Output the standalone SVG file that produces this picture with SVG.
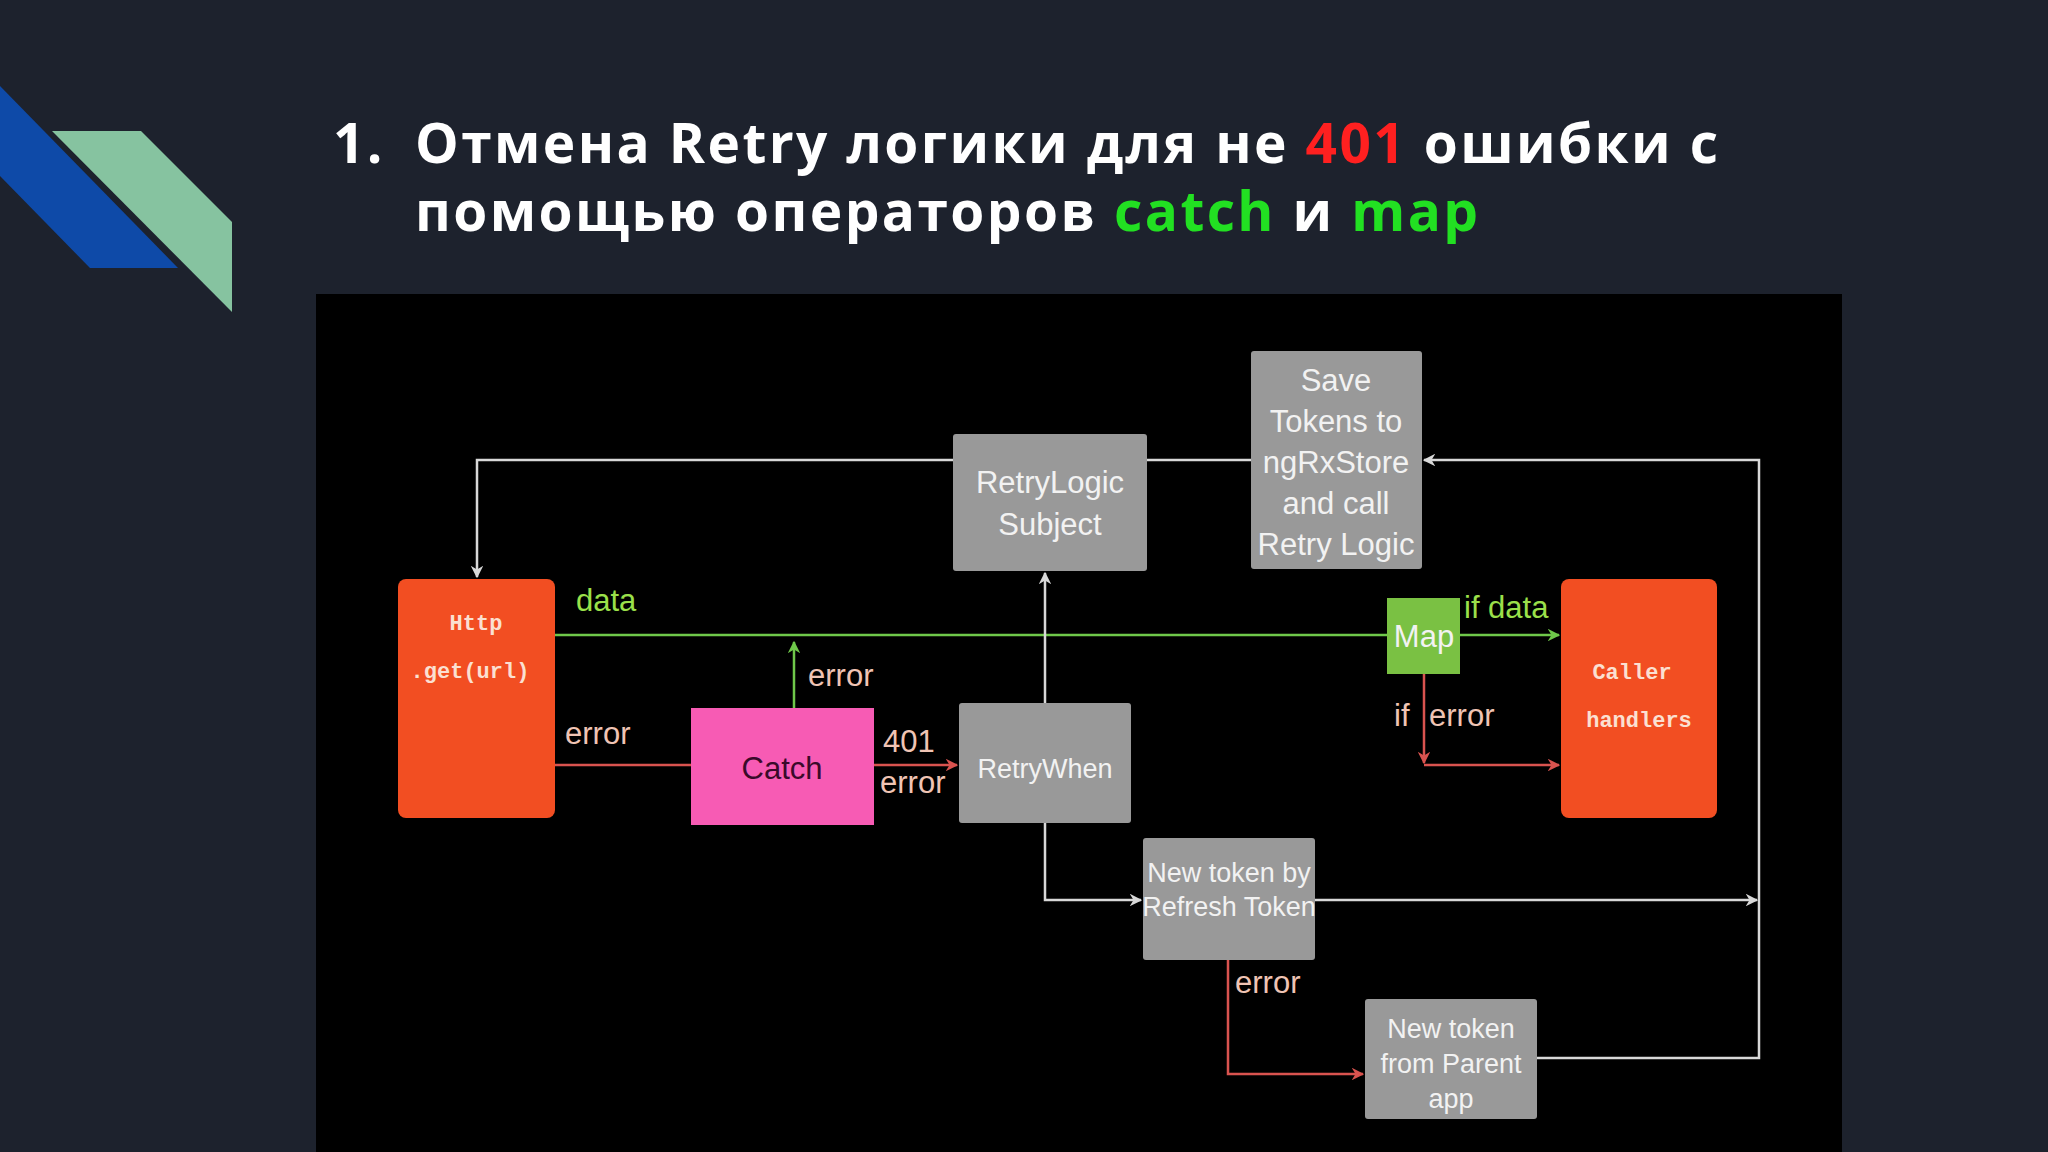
<svg xmlns="http://www.w3.org/2000/svg" width="2048" height="1152" viewBox="0 0 2048 1152">
<defs>
<style>
.t{font-family:"Liberation Sans",Arial,sans-serif;font-size:31px;fill:#f2f2f2;text-anchor:middle}
.s{font-size:27px}
.m{font-family:"Liberation Mono","Courier New",monospace;font-weight:bold;font-size:22px;fill:#fbe0d2;text-anchor:middle}
.lg{font-family:"Liberation Sans",Arial,sans-serif;font-size:31px;fill:#9be04a}
.lr{font-family:"Liberation Sans",Arial,sans-serif;font-size:31px;fill:#f0c4b4}
.gray{fill:#999999}
.w{stroke:#d8d8d8;stroke-width:2.5;fill:none}
.g{stroke:#6fc84a;stroke-width:2.5;fill:none}
.r{stroke:#d9534f;stroke-width:2.5;fill:none}
.h{font-family:"Open Sans","DejaVu Sans",sans-serif;font-weight:bold;font-size:55px;letter-spacing:2.4px;fill:#ffffff}
</style>
<marker id="aw" viewBox="0 0 10 10" refX="9" refY="5" markerWidth="5" markerHeight="5" orient="auto"><path d="M0,0L10,5L0,10L3,5z" fill="#d8d8d8"/></marker>
<marker id="ag" viewBox="0 0 10 10" refX="9" refY="5" markerWidth="5" markerHeight="5" orient="auto"><path d="M0,0L10,5L0,10L3,5z" fill="#6fc84a"/></marker>
<marker id="ar" viewBox="0 0 10 10" refX="9" refY="5" markerWidth="5" markerHeight="5" orient="auto"><path d="M0,0L10,5L0,10L3,5z" fill="#d9534f"/></marker>
</defs>
<rect width="2048" height="1152" fill="#1d222d"/>
<polygon points="0,86 178,268 90,268 0,176" fill="#0e4aa8"/>
<polygon points="52,131 141,131 232,222 232,312" fill="#86c3a0"/>
<text class="h" x="333" y="163">1.</text>
<text class="h" x="415" y="163">Отмена Retry логики для не <tspan fill="#ff2020">401</tspan> ошибки с</text>
<text class="h" x="415" y="231">помощью операторов <tspan fill="#22e022">catch</tspan> и <tspan fill="#22e022">map</tspan></text>
<rect x="316" y="294" width="1526" height="858" fill="#000000"/>
<g id="connectors">
<path class="g" d="M555,635H1387"/>
<path class="g" d="M1460,635H1559" marker-end="url(#ag)"/>
<path class="g" d="M794,708V642" marker-end="url(#ag)"/>
<path class="r" d="M555,765H691"/>
<path class="r" d="M874,765H957" marker-end="url(#ar)"/>
<path class="w" d="M1045,703V573" marker-end="url(#aw)"/>
<path class="w" d="M953,460H477V577" marker-end="url(#aw)"/>
<path class="w" d="M1147,460H1251"/>
<path class="w" d="M1537,1058H1759V460H1424" marker-end="url(#aw)"/>
<path class="w" d="M1045,823V900H1141" marker-end="url(#aw)"/>
<path class="w" d="M1315,900H1757" marker-end="url(#aw)"/>
<path class="r" d="M1228,960V1074H1363" marker-end="url(#ar)"/>
<path class="r" d="M1424,674V763" marker-end="url(#ar)"/>
<path class="r" d="M1424,765H1559" marker-end="url(#ar)"/>
<text class="lg" x="576" y="611">data</text>
<text class="lr" x="808" y="686">error</text>
<text class="lr" x="565" y="744">error</text>
<text class="lr" x="883" y="752">401</text>
<text class="lr" x="880" y="793">error</text>
<text class="lr" x="1235" y="993">error</text>
<text class="lr" x="1394" y="726">if</text>
<text class="lr" x="1429" y="726">error</text>
<text class="lg" x="1464" y="618">if data</text>
</g>
<g id="http"><rect x="398" y="579" width="157" height="239" rx="8" fill="#f24e22"/><text class="m" x="476" y="630">Http</text><text class="m" x="470" y="678">.get(url)</text></g>
<g id="catch"><rect x="691" y="708" width="183" height="117" fill="#f75bb4"/><text class="t" x="782" y="779" style="fill:#3a0a2a">Catch</text></g>
<g id="retrywhen"><rect x="959" y="703" width="172" height="120" rx="3" class="gray"/><text class="t s" x="1045" y="778">RetryWhen</text></g>
<g id="retrylogic"><rect x="953" y="434" width="194" height="137" rx="3" class="gray"/><text class="t" x="1050" y="493">RetryLogic</text><text class="t" x="1050" y="535">Subject</text></g>
<g id="save"><rect x="1251" y="351" width="171" height="218" rx="3" class="gray"/><text class="t" x="1336" y="391">Save</text><text class="t" x="1336" y="432">Tokens to</text><text class="t" x="1336" y="473">ngRxStore</text><text class="t" x="1336" y="514">and call</text><text class="t" x="1336" y="555">Retry Logic</text></g>
<g id="map"><rect x="1387" y="598" width="73" height="76" fill="#7ac143"/><text class="t" x="1424" y="647">Map</text></g>
<g id="caller"><rect x="1561" y="579" width="156" height="239" rx="8" fill="#f24e22"/><text class="m" x="1632" y="679">Caller</text><text class="m" x="1639" y="727">handlers</text></g>
<g id="refresh"><rect x="1143" y="838" width="172" height="122" rx="3" class="gray"/><text class="t s" x="1229" y="882">New token by</text><text class="t s" x="1229" y="916">Refresh Token</text></g>
<g id="parent"><rect x="1365" y="999" width="172" height="120" rx="3" class="gray"/><text class="t s" x="1451" y="1038">New token</text><text class="t s" x="1451" y="1073">from Parent</text><text class="t s" x="1451" y="1108">app</text></g>
</svg>
